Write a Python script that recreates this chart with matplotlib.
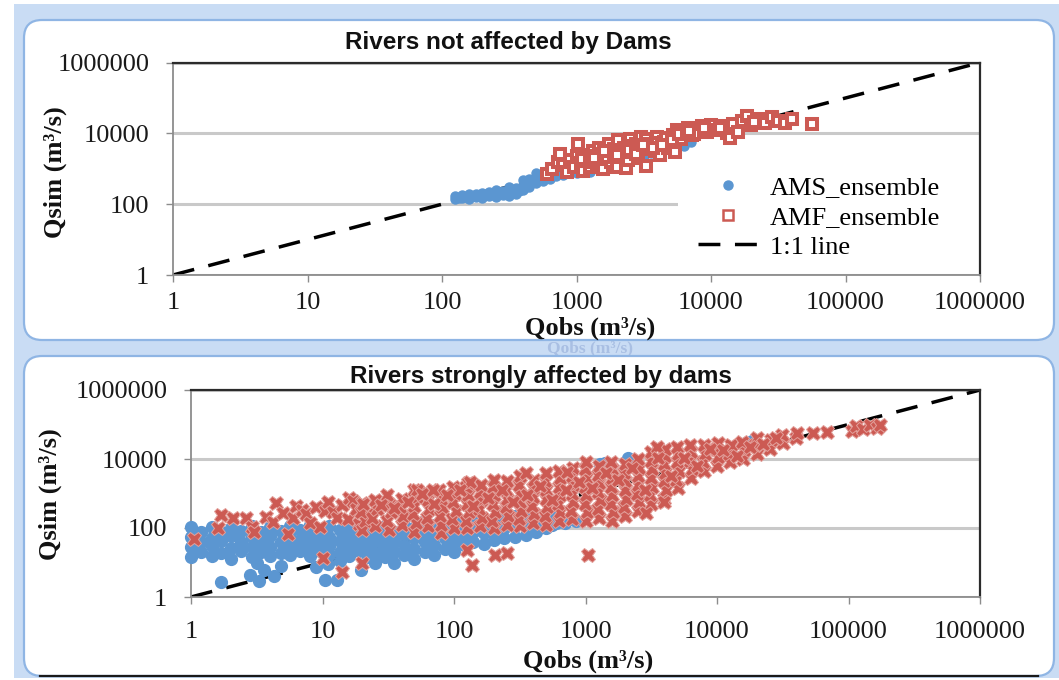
import matplotlib
matplotlib.use("Agg")
import matplotlib.pyplot as plt
from matplotlib.patches import FancyBboxPatch, Rectangle
from matplotlib.lines import Line2D
from matplotlib.ticker import NullLocator

plt.rcParams['font.family'] = ['Liberation Serif', 'DejaVu Serif']
SANS = ['Liberation Sans Narrow', 'Liberation Sans', 'DejaVu Sans']

# ---------------- data ----------------
X_TICKS = [1, 10, 100, 1000, 10000, 100000, 1000000]
X_TICK_LABELS = ['1', '10', '100', '1000', '10000', '100000', '1000000']
Y_TICKS = [1, 100, 10000, 1000000]
Y_TICK_LABELS = ['1', '100', '10000', '1000000']
ONE_TO_ONE = [1, 1000000]

TITLE_TOP = 'Rivers not affected by Dams'
TITLE_BOTTOM = 'Rivers strongly affected by dams'
X_LABEL = 'Qobs (m³/s)'
Y_LABEL = 'Qsim (m³/s)'
SERIES_LABELS = ['AMS_ensemble', 'AMF_ensemble', '1:1 line']

# (Qobs, Qsim) pairs, top panel
AMS_TOP = [
    (126, 141), (126, 166), (133, 150), (141, 151), (141, 178), (150, 160), (158, 141),
    (158, 190), (168, 172), (178, 158), (178, 200), (190, 168), (200, 151), (200, 209),
    (200, 178), (212, 190), (224, 166), (224, 224), (237, 200), (251, 158), (251, 200),
    (251, 251), (265, 215), (282, 178), (282, 240), (298, 205), (316, 166), (316, 224),
    (316, 302), (335, 250), (355, 200), (355, 282), (375, 240), (398, 251), (398, 355),
    (398, 479), (420, 300), (447, 316), (447, 501), (470, 420), (501, 398), (501, 603),
    (501, 759), (530, 560), (562, 447), (562, 708), (600, 600), (631, 525), (631, 891),
    (670, 760), (708, 631), (708, 955), (750, 850), (794, 661), (794, 1047), (900, 950),
    (1000, 759), (1000, 1122), (1120, 1000), (1259, 832), (1259, 1259), (1400, 1150),
    (1585, 1000), (1585, 1514), (1780, 1400), (1995, 1202), (1995, 1778), (2240, 1800),
    (2512, 1585), (2512, 2239), (2820, 2500), (3162, 2239), (3162, 3162), (3550, 2800),
    (3981, 2818), (3981, 3981), (4470, 3550), (5012, 3548), (5012, 5012), (5620, 4470),
    (6310, 4467), (6310, 6310), (7079, 5623),
]
AMF_TOP = [
    (603, 708), (661, 1000), (724, 1585), (759, 2630), (794, 1259), (851, 794), (891, 1778),
    (955, 1122), (1000, 2239), (1023, 5012), (1072, 1413), (1122, 891), (1148, 2512),
    (1202, 1778), (1259, 1122), (1318, 3162), (1380, 2239), (1413, 1413), (1479, 3981),
    (1549, 1995), (1585, 1000), (1660, 2818), (1738, 5012), (1820, 1585), (1905, 3548),
    (1995, 1122), (2042, 6310), (2138, 2239), (2239, 3981), (2344, 1047), (2399, 1778),
    (2512, 7079), (2630, 3162), (2754, 5012), (2884, 1995), (3020, 7943), (3162, 3548),
    (3311, 1202), (3311, 6761), (3548, 5012), (3802, 3162), (3981, 7943), (4169, 2512),
    (4467, 5623), (4786, 3981), (5248, 8913), (5370, 2951), (5623, 12589), (6026, 7079),
    (6310, 11220), (6761, 14125), (7244, 8913), (7943, 12589), (8511, 15849), (9333, 11220),
    (10000, 17783), (10965, 12589), (12023, 15849), (13183, 10000), (13804, 7413),
    (14454, 18621), (15849, 11220), (16982, 22387), (18621, 30200), (19953, 17783),
    (22387, 25119), (25119, 19953), (28184, 28184), (31623, 22387), (35481, 19953),
    (39811, 25119), (56234, 18621),
    (1100, 1900), (1250, 1600), (1500, 2600), (1700, 2100), (1900, 2800), (2200, 3000),
    (2600, 4300), (2900, 3700), (3400, 4200), (4000, 5500), (4600, 7600), (5100, 6600),
    (5800, 9800), (6600, 10200), (7500, 9900), (8900, 14000),
    (1350, 2000), (1600, 3200), (2000, 2500), (2450, 3500), (2750, 2600), (3100, 4600),
    (3700, 3900), (4300, 4800), (6900, 12000), (11600, 14500), (21000, 21000),
]

# (Qobs, Qsim) pairs, bottom panel
AMS_BOTTOM = [
    (1.0, 14), (1.0, 28), (1.0, 56), (1.0, 105),
    (1.2, 20), (1.2, 40), (1.2, 79),
    (1.45, 15), (1.45, 30), (1.45, 52), (1.45, 110),
    (1.7, 19), (1.7, 42), (1.7, 75),
    (2.0, 13), (2.0, 27), (2.0, 60), (2.0, 100),
    (2.4, 21), (2.4, 38), (2.4, 82),
    (2.9, 14), (2.9, 29), (2.9, 55), (2.9, 112),
    (3.4, 20), (3.4, 41), (3.4, 78),
    (4.0, 15), (4.0, 28), (4.0, 58), (4.0, 105),
    (4.8, 19), (4.8, 40), (4.8, 80),
    (5.7, 16), (5.7, 30), (5.7, 55), (5.7, 115),
    (6.8, 21), (6.8, 42), (6.8, 85),
    (8.0, 15), (8.0, 28), (8.0, 60), (8.0, 120),
    (9.5, 22), (9.5, 40), (9.5, 80),
    (11.3, 16), (11.3, 30), (11.3, 56), (11.3, 118),
    (13.5, 20), (13.5, 42), (13.5, 85),
    (16, 15), (16, 29), (16, 60), (16, 125),
    (19, 21), (19, 40), (19, 80),
    (22, 14), (22, 28), (22, 56), (22, 112),
    (1.7, 2.7), (2.8, 4.2), (3.3, 3.0), (3.6, 6.2), (4.3, 4.0), (4.8, 8.0), (3.2, 10),
    (9, 7.5), (10.5, 3.1), (11, 9), (13, 3.1), (13.5, 11), (19.5, 6),
    (25, 10), (25, 20), (25, 40), (25, 79),
    (30, 14), (30, 28), (30, 56), (30, 112),
    (35, 10), (35, 20), (35, 40), (35, 79),
    (42, 16), (42, 32), (42, 63), (42, 126),
    (50, 12.6), (50, 25), (50, 50), (50, 100),
    (60, 20), (60, 40), (60, 79), (60, 158),
    (70, 16), (70, 32), (70, 63), (70, 126),
    (85, 25), (85, 50), (85, 100),
    (100, 20), (100, 40), (100, 79), (100, 158),
    (120, 32), (120, 63), (120, 126),
    (140, 40), (140, 79), (140, 158),
    (170, 35), (170, 71), (170, 141),
    (200, 45), (200, 89), (200, 178),
    (240, 50), (240, 100), (240, 200),
    (290, 56), (290, 112), (290, 224),
    (350, 63), (350, 126), (350, 251),
    (420, 79), (420, 158),
    (500, 100), (500, 200),
    (600, 141), (600, 251),
    (560, 120), (700, 140), (850, 160),
    (1300, 7300), (1400, 7900), (2100, 10500), (16500, 30000), (18500, 32500),
]
AMF_BOTTOM = [
    (1.05, 48), (1.6, 100), (1.7, 240), (2.1, 200), (2.6, 190), (2.9, 110), (3.0, 75),
    (3.7, 210), (4.2, 150), (4.4, 520), (5.0, 280), (5.5, 65), (6.0, 190), (6.3, 440),
    (7.0, 330), (7.5, 250), (8.0, 140), (8.9, 410), (9.5, 110), (10.5, 320), (11, 560),
    (12, 300), (13, 200), (14, 460), (15.5, 180), (16, 740), (17, 620), (18, 350),
    (19, 130), (20, 520), (22, 250), (10, 13.5), (14, 5.2), (20, 10),
    (20, 89), (21, 158), (19.5, 282), (20.5, 501),
    (25, 112), (24, 200), (26, 355), (25, 631),
    (32, 89), (31, 158), (33, 282), (32, 501), (31, 891),
    (40, 126), (41, 224), (39, 398), (40, 708),
    (50, 79), (51, 141), (49, 251), (50, 447), (52, 794), (50, 1260),
    (63, 112), (62, 200), (64, 355), (63, 631), (61, 1120),
    (79, 71), (80, 126), (78, 224), (81, 398), (79, 708), (77, 1260),
    (100, 100), (97, 178), (103, 316), (99, 562), (101, 1000), (98, 1580),
    (126, 100), (123, 158), (129, 282), (125, 501), (127, 891), (124, 1580), (128, 2000),
    (158, 112), (162, 200), (155, 355), (160, 631), (157, 1120), (161, 1780),
    (200, 100), (196, 158), (204, 282), (199, 501), (202, 891), (197, 1580), (201, 2510),
    (251, 126), (256, 224), (247, 398), (252, 708), (249, 1260), (254, 2240),
    (316, 112), (310, 178), (322, 316), (315, 562), (319, 1000), (312, 1780), (317, 3160),
    (398, 141), (405, 251), (392, 447), (400, 794), (396, 1410), (403, 2510),
    (501, 126), (492, 224), (510, 398), (498, 708), (505, 1260), (495, 2240), (503, 3980),
    (631, 158), (642, 282), (622, 501), (635, 891), (627, 1580), (638, 2820), (630, 4470),
    (794, 178), (780, 316), (808, 562), (790, 1000), (800, 1780), (785, 3160), (797, 5620),
    (1000, 158), (1020, 282), (985, 501), (1005, 891), (990, 1580), (1015, 2820),
    (998, 5010), (1008, 7940),
    (1260, 200), (1240, 355), (1280, 631), (1255, 1120), (1270, 2000), (1245, 3550),
    (1262, 6310),
    (1580, 158), (1610, 282), (1560, 501), (1590, 891), (1570, 1580), (1600, 2820),
    (1585, 5010), (1575, 7940),
    (2000, 224), (1960, 398), (2030, 708), (1990, 1260), (2010, 2240), (1975, 3980),
    (2005, 7080),
    (2510, 316), (2560, 562), (2470, 1000), (2520, 1780), (2490, 3160), (2540, 5620),
    (2505, 10000),
    (3160, 501), (3100, 891), (3220, 1580), (3150, 2820), (3190, 5010), (3130, 8910),
    (3170, 15800),
    (3980, 708), (4060, 1260), (3920, 2240), (4000, 3980), (3950, 7080), (4030, 12600),
    (3990, 20000),
    (5010, 1410), (4920, 2510), (5100, 4470), (5000, 7940), (5060, 14100), (4970, 22400),
    (6310, 2820), (6420, 5010), (6200, 8910), (6350, 15800), (6280, 25100),
    (7940, 4470), (7800, 7940), (8080, 14100), (7900, 25100),
    (10000, 6310), (10200, 11200), (9800, 20000), (10100, 28200),
    (12600, 7940), (12400, 14100), (12800, 25100),
    (15800, 10000), (16100, 17800), (15600, 31600),
    (20000, 14100), (19600, 25100), (20300, 39800),
    (25100, 20000), (25600, 35500),
    (31600, 28200), (31000, 50100),
    (39800, 39800), (40500, 56200),
    (53700, 56200), (69200, 60300),
    (107000, 63000), (115000, 89000), (128000, 72000), (145000, 100000), (165000, 80000),
    (175000, 95000),
    (126, 23), (138, 8.5), (204, 16.6), (251, 19), (1050, 16.6), (3980, 562), (2880, 269),
    (52, 1260), (69, 1260), (132, 2140), (355, 3890), (724, 4170), (3470, 22400),
    (140, 420), (180, 750), (230, 1300), (280, 560), (360, 900), (450, 1600), (560, 630),
    (710, 1250), (890, 2200), (1120, 1400), (1420, 4000), (1780, 2500), (2240, 5600),
    (2820, 1300), (3550, 11000), (4470, 3200), (5620, 11000), (7080, 6300), (8900, 20000),
    (11200, 18000), (14100, 12000), (17800, 22000), (22400, 28000), (28000, 40000),
    (45, 550), (57, 950), (71, 480), (89, 900), (112, 1250), (35, 380), (28, 470),
]

# ---------------- style ----------------
BLUE = '#5b96d1'
RED = '#cc5a53'
BAND = '#c9dcf4'
W, H = 1059, 680

fig = plt.figure(figsize=(W / 100, H / 100), dpi=100)
fig.patch.set_facecolor('white')

bg = fig.add_axes([0, 0, 1, 1], zorder=0)
bg.set_xlim(0, W)
bg.set_ylim(H, 0)
bg.axis('off')
bg.add_patch(Rectangle((14, 4), W - 14, 674, facecolor=BAND, edgecolor='none', zorder=1))
bg.text(590, 348.5, X_LABEL, ha='center', va='center', fontsize=12.5,
        fontweight='bold', color='#a9bfe3', zorder=1.5)
for (py0, py1) in [(20, 340), (356, 676)]:
    bg.add_patch(FancyBboxPatch((24, py0), 1030, py1 - py0,
                                boxstyle='round,pad=0,rounding_size=18',
                                facecolor='white', edgecolor='#8fb5e4', lw=1.6, zorder=2))
bg.plot([40, 1038], [676, 676], color='#1a1a1a', lw=1.6, zorder=2.5)


def px_axes(x0, y0, x1, y1):
    return fig.add_axes([x0 / W, 1 - y1 / H, (x1 - x0) / W, (y1 - y0) / H], zorder=1)


def style(ax, xpad):
    ax.set_xscale('log')
    ax.set_yscale('log')
    ax.set_xlim(1, 1e6)
    ax.set_ylim(1, 1e6)
    ax.set_xticks(X_TICKS)
    ax.set_xticklabels(X_TICK_LABELS)
    ax.set_yticks(Y_TICKS)
    ax.set_yticklabels(Y_TICK_LABELS)
    ax.xaxis.set_minor_locator(NullLocator())
    ax.yaxis.set_minor_locator(NullLocator())
    ax.tick_params(axis='both', which='major', direction='out', length=5, width=1,
                   color='#8c8c8c', labelsize=19, pad=12, labelcolor='#1a1a1a')
    ax.tick_params(axis='x', pad=xpad)
    ax.set_facecolor('white')
    for s in ['left', 'bottom']:
        ax.spines[s].set_color('#8c8c8c')
        ax.spines[s].set_linewidth(1.3)
    for s in ['top', 'right']:
        ax.spines[s].set_color('#2b2b2b')
        ax.spines[s].set_linewidth(1.6)
    ax.yaxis.grid(True, color='#c9c9c9', lw=2.2)
    ax.xaxis.grid(False)
    ax.set_axisbelow(True)


def unzip(pairs):
    return [p[0] for p in pairs], [p[1] for p in pairs]


# ---------------- top panel ----------------
ax1 = px_axes(173, 62.6, 980, 275)
style(ax1, 7)
ax1.plot(ONE_TO_ONE, ONE_TO_ONE, color='black', lw=2.5, dashes=(6.3, 4.2), zorder=2)
x, y = unzip(AMS_TOP)
ax1.plot(x, y, 'o', ms=6.5, color=BLUE, mec=BLUE, zorder=3, clip_on=False)
x, y = unzip(AMF_TOP)
ax1.plot(x, y, 's', ms=7.5, mfc='white', mec=RED, mew=2.9, zorder=4, clip_on=False)
ax1.add_patch(Rectangle((0.626, 0.047), 0.374, 0.47, transform=ax1.transAxes,
                        facecolor='white', edgecolor='none', zorder=1.5))
handles = [
    Line2D([], [], ls='none', marker='o', ms=6.5, color=BLUE),
    Line2D([], [], ls='none', marker='s', ms=6.5, mfc='white', mec=RED, mew=1.8),
    Line2D([], [], color='black', lw=2.5, dashes=(6.3, 4.2)),
]
ax1.legend(handles, SERIES_LABELS, loc='upper left', bbox_to_anchor=(687 / W, 1 - 165 / H),
           bbox_transform=fig.transFigure, frameon=False, fontsize=19, handlelength=2.3,
           handletextpad=0.45, labelspacing=0.24, borderpad=0.4, borderaxespad=0)

# ---------------- bottom panel ----------------
ax2 = px_axes(191, 390, 980, 597)
style(ax2, 12)
ax2.plot(ONE_TO_ONE, ONE_TO_ONE, color='black', lw=2.5, dashes=(6.3, 4.2), zorder=2)
x, y = unzip(AMS_BOTTOM)
ax2.plot(x, y, 'o', ms=8.5, color=BLUE, mec=BLUE, zorder=3, clip_on=False)
x, y = unzip(AMF_BOTTOM)
ax2.plot(x, y, 'X', ms=10.5, color=RED, mec='#e3a19c', mew=0.7, zorder=4, clip_on=False)

# ---------------- titles / labels ----------------
bg.text(508, 42, TITLE_TOP, ha='center', va='center', fontsize=17.5, fontweight='bold',
        family=SANS, color='#111111', zorder=3)
bg.text(541, 377, TITLE_BOTTOM, ha='center', va='center', fontsize=17.5, fontweight='bold',
        family=SANS, color='#111111', zorder=3)
bg.text(55, 172, Y_LABEL, ha='center', va='center', rotation=90, fontsize=19,
        fontweight='bold', color='#111111', zorder=3)
bg.text(50, 494, Y_LABEL, ha='center', va='center', rotation=90, fontsize=19,
        fontweight='bold', color='#111111', zorder=3)
bg.text(590, 328, X_LABEL, ha='center', va='center', fontsize=19, fontweight='bold',
        color='#111111', zorder=3)
bg.text(588, 661, X_LABEL, ha='center', va='center', fontsize=19, fontweight='bold',
        color='#111111', zorder=3)

fig.savefig('out.png', dpi=100, facecolor='white')
